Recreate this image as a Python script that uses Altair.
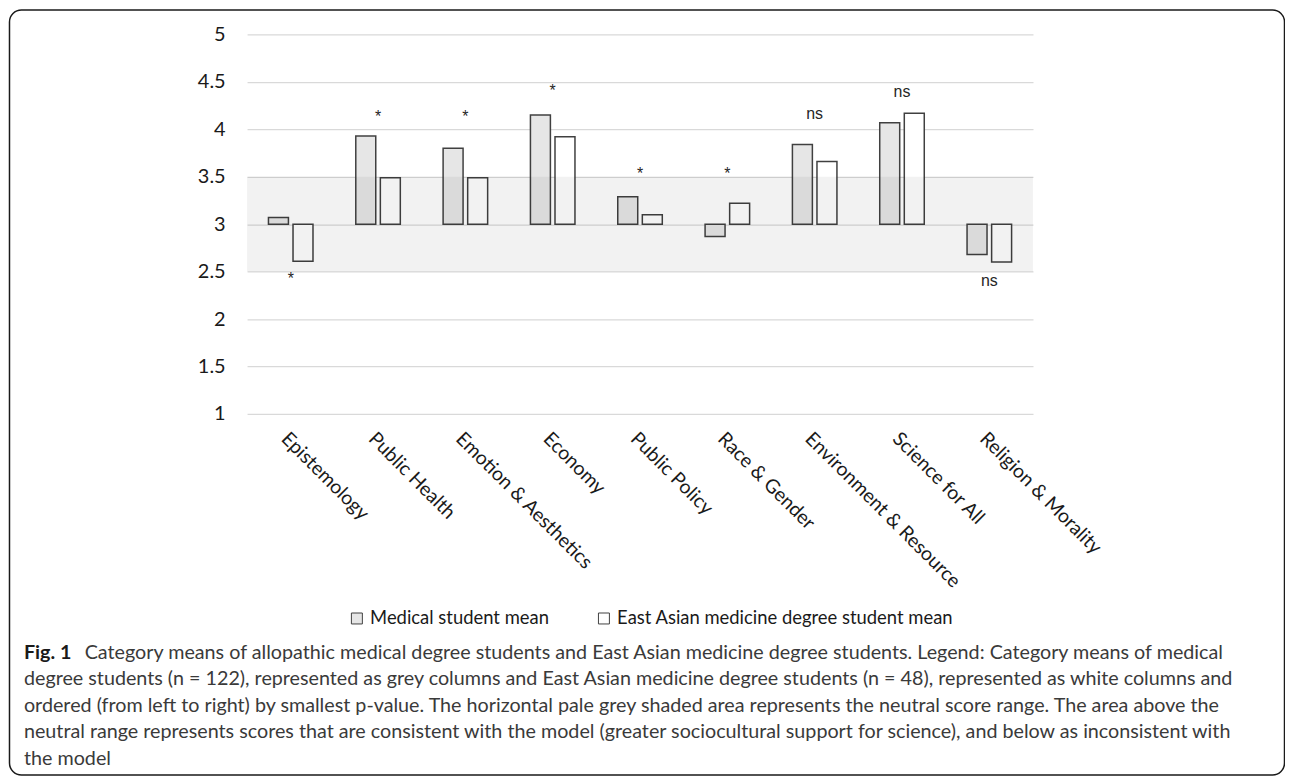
import altair as alt
import pandas as pd

# ---------------- data ----------------
CATEGORIES = ["Epistemology", "Public Health", "Emotion & Aesthetics", "Economy",
              "Public Policy", "Race & Gender", "Environment & Resource",
              "Science for All", "Religion & Morality"]
SERIES = ["Medical student mean", "East Asian medicine degree student mean"]
MEDICAL = [3.07, 3.93, 3.80, 4.15, 3.29, 2.87, 3.84, 4.07, 2.68]
EAM = [2.61, 3.49, 3.49, 3.92, 3.10, 3.22, 3.66, 4.17, 2.60]
SIG_LABELS = ["*", "*", "*", "*", "*", "*", "ns", "ns", "ns"]
SIG_POS = [2.44, 4.15, 4.15, 4.42, 3.55, 3.55, 4.15, 4.38, 2.39]
NEUTRAL_LOW = [2.5]
NEUTRAL_HIGH = [3.5]
BASELINE = 3
Y_TICKS = [1, 1.5, 2, 2.5, 3, 3.5, 4, 4.5, 5]
CAPTION_HEAD = "Fig. 1"
CAPTION_LINES = [
    "Category means of allopathic medical degree students and East Asian medicine degree students. Legend: Category means of medical",
    "degree students (n = 122), represented as grey columns and East Asian medicine degree students (n = 48), represented as white columns and",
    "ordered (from left to right) by smallest p-value. The horizontal pale grey shaded area represents the neutral score range. The area above the",
    "neutral range represents scores that are consistent with the model (greater sociocultural support for science), and below as inconsistent with",
    "the model",
]

# ---------------- layout ----------------
W, H = 789, 381
FONT = "Lato"

rows = []
for c, m, e in zip(CATEGORIES, MEDICAL, EAM):
    rows.append({"category": c, "series": SERIES[0], "value": m})
    rows.append({"category": c, "series": SERIES[1], "value": e})
bars_df = pd.DataFrame(rows)
ann_df = pd.DataFrame({"category": CATEGORIES, "label": SIG_LABELS, "pos": SIG_POS})
shade_df = pd.DataFrame({"lo": NEUTRAL_LOW, "hi": NEUTRAL_HIGH})

x_enc = alt.X(
    "category:N", sort=CATEGORIES,
    scale=alt.Scale(domain=CATEGORIES, paddingInner=0.49, paddingOuter=0.245),
    axis=alt.Axis(title=None, labelAngle=45, labelAlign="left", labelBaseline="top",
                  labelPadding=15, labelFontSize=19.5, labelFont=FONT, labelColor="#1a1a1a",
                  labelLimit=0, ticks=False, domain=False, grid=False),
)
y_scale = alt.Scale(domain=[1, 5], nice=False, zero=False)

bars = alt.Chart(bars_df).mark_bar(stroke="#404040", strokeWidth=1.5).encode(
    x=x_enc,
    xOffset=alt.XOffset("series:N", sort=SERIES,
                        scale=alt.Scale(domain=SERIES, paddingInner=0.187, paddingOuter=0)),
    y=alt.Y("value:Q", scale=y_scale,
            axis=alt.Axis(title=None, values=Y_TICKS, format="~g", labelFontSize=20,
                          labelFont=FONT, labelColor="#1a1a1a", labelPadding=22,
                          ticks=False, domain=False, grid=True, gridColor="#d9d9d9",
                          gridWidth=1.3)),
    y2=alt.datum(BASELINE),
    fill=alt.Fill("series:N", sort=SERIES,
                  scale=alt.Scale(domain=SERIES, range=["#e6e6e6", "#ffffff"]),
                  legend=alt.Legend(title=None, orient="none", legendX=101, legendY=577,
                                    direction="horizontal", symbolType="square",
                                    symbolSize=121, symbolStrokeColor="#404040",
                                    symbolStrokeWidth=1, labelFontSize=18.5, labelFont=FONT,
                                    labelColor="#1a1a1a", labelOffset=4, columnPadding=45,
                                    padding=0, labelLimit=0)),
)

shade = alt.Chart(shade_df).mark_rect(color="black", opacity=0.05).encode(
    y=alt.Y("hi:Q", scale=y_scale), y2="lo:Q",
    x=alt.value(0), x2=alt.value(W),
)

star = alt.Chart(ann_df).transform_filter(alt.datum.label == "*").mark_text(
    font="Liberation Sans", fontSize=16, color="#262626", baseline="alphabetic", dy=7
).encode(x=alt.X("category:N", sort=CATEGORIES), y=alt.Y("pos:Q", scale=y_scale), text="label:N")

ns = alt.Chart(ann_df).transform_filter(alt.datum.label == "ns").mark_text(
    font="Liberation Sans", fontSize=16, color="#262626", baseline="alphabetic", dy=4
).encode(x=alt.X("category:N", sort=CATEGORIES), y=alt.Y("pos:Q", scale=y_scale), text="label:N")

one = pd.DataFrame({"k": [0]})
CAP_X = -224
CAP_Y0 = 621
CAP_LH = 26.6
CAP_SIZE = 19.8

caption_layers = [
    alt.Chart(one).mark_text(align="left", baseline="middle", font=FONT, fontWeight="bold",
                             fontSize=CAP_SIZE, color="#1a1a1a", text=CAPTION_HEAD)
    .encode(x=alt.value(CAP_X), y=alt.value(CAP_Y0)),
    alt.Chart(one).mark_text(align="left", baseline="middle", font=FONT,
                             fontSize=CAP_SIZE, color="#3a3a3a", text=CAPTION_LINES[0])
    .encode(x=alt.value(CAP_X + 61), y=alt.value(CAP_Y0)),
]
for i, line in enumerate(CAPTION_LINES[1:], start=1):
    caption_layers.append(
        alt.Chart(one).mark_text(align="left", baseline="middle", font=FONT,
                                 fontSize=CAP_SIZE, color="#3a3a3a", text=line)
        .encode(x=alt.value(CAP_X), y=alt.value(CAP_Y0 + i * CAP_LH))
    )

frame = alt.Chart(one).mark_rect(fill="transparent", stroke="#1a1a1a", strokeWidth=1.5,
                                 cornerRadius=12).encode(
    x=alt.value(-238.5), x2=alt.value(1041.5), y=alt.value(-24.5), y2=alt.value(743.5)
)

chart = alt.layer(bars, shade, star, ns, *caption_layers, frame).properties(
    width=W, height=H,
    padding={"left": 240, "top": 25, "right": 253, "bottom": 363},
    autosize=alt.AutoSizeParams(type="none"),
    background="white",
).configure_view(stroke=None)

chart.save("out.html", embed_options={"renderer": "svg", "actions": False})
